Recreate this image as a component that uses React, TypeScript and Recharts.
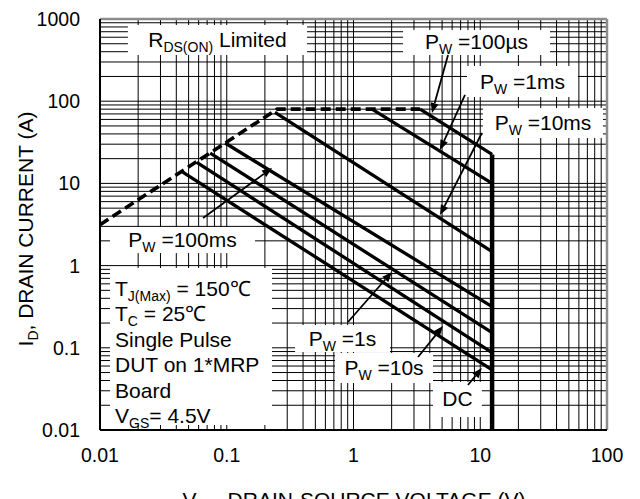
import React from 'react';
import { LineChart, Line, XAxis, YAxis, CartesianGrid, ReferenceLine, ReferenceArea } from 'recharts';

type Pt = { x: number; y: number };
type Part = { t: string; sub?: boolean };

// SOA curves (V_DS in V, I_D in A)
const rdsOnLimit: Pt[] = [{ x: 0.01, y: 3.15 }, { x: 0.25, y: 80 }, { x: 3.35, y: 80 }];
const pw100us: Pt[] = [{ x: 3.35, y: 80 }, { x: 12.4, y: 22.5 }];
const pw1ms: Pt[] = [{ x: 1.4, y: 80 }, { x: 12.4, y: 10 }];
const pw10ms: Pt[] = [{ x: 0.24, y: 73 }, { x: 12.4, y: 1.48 }];
const pw100ms: Pt[] = [{ x: 0.097, y: 31 }, { x: 12.4, y: 0.317 }];
const pw1s: Pt[] = [{ x: 0.074, y: 23.4 }, { x: 12.4, y: 0.153 }];
const pw10s: Pt[] = [{ x: 0.058, y: 18 }, { x: 12.4, y: 0.0875 }];
const pwDC: Pt[] = [{ x: 0.044, y: 14 }, { x: 12.4, y: 0.054 }];
const vdsMax: Pt[] = [{ x: 12.4, y: 22.5 }, { x: 12.4, y: 0.01 }];

const pulseLines = [pw100us, pw1ms, pw10ms, pw100ms, pw1s, pw10s, pwDC];

// axes
const xDecades = [0.01, 0.1, 1, 10, 100];
const xTickLabels = ['0.01', '0.1', '1', '10', '100'];
const yDecades = [0.01, 0.1, 1, 10, 100, 1000];
const yTickLabels = ['0.01', '0.1', '1', '10', '100', '1000'];
const gridSteps = [1, 2, 3, 4, 5, 6, 7, 8, 9];

const logGrid = (decades: number[]) =>
  decades.slice(0, -1).flatMap((d) => gridSteps.map((s) => d * s)).concat(decades[decades.length - 1]);
const xGrid = logGrid(xDecades);
const yGrid = logGrid(yDecades);

const decadeLabel = (decades: number[], labels: string[]) => (v: number) => {
  const i = decades.findIndex((d) => Math.abs(d - v) / d < 1e-6);
  return i >= 0 ? labels[i] : '';
};

// annotations (data coordinates)
const pw = (s: string): Part[] => [{ t: 'P' }, { t: 'W', sub: true }, { t: ' =' + s }];

const labelBoxes = [
  { x1: 0.0166, x2: 0.43, y1: 365, y2: 845, parts: [{ t: 'R' }, { t: 'DS(ON)', sub: true }, { t: ' Limited' }] },
  { x1: 2.46, x2: 35.5, y1: 365, y2: 735, parts: pw('100µs') },
  { x1: 7.86, x2: 59, y1: 112.5, y2: 268, parts: pw('1ms') },
  { x1: 10.5, x2: 93, y1: 35.7, y2: 82.6, parts: pw('10ms') },
  { x1: 0.012, x2: 0.167, y1: 1.42, y2: 2.95, parts: pw('100ms') },
  { x1: 0.346, x2: 1.94, y1: 0.0889, y2: 0.189, parts: pw('1s') },
  { x1: 0.714, x2: 4.24, y1: 0.0373, y2: 0.0864, parts: pw('10s') },
  { x1: 4.24, x2: 10.3, y1: 0.0144, y2: 0.0384, parts: [{ t: 'DC' }] },
];

const conditionBox = { x1: 0.012, x2: 0.2275, y1: 0.0115, y2: 0.935 };
const conditionLines: Part[][] = [
  [{ t: 'T' }, { t: 'J(Max)', sub: true }, { t: ' = 150℃' }],
  [{ t: 'T' }, { t: 'C', sub: true }, { t: ' = 25℃' }],
  [{ t: 'Single Pulse' }],
  [{ t: 'DUT on 1*MRP' }],
  [{ t: 'Board' }],
  [{ t: 'V' }, { t: 'GS', sub: true }, { t: '= 4.5V' }],
];

const arrows = [
  { from: { x: 5.57, y: 365 }, to: { x: 4.16, y: 71.9 } },
  { from: { x: 7.58, y: 119 }, to: { x: 4.81, y: 25.5 } },
  { from: { x: 10.3, y: 41 }, to: { x: 4.81, y: 4.13 } },
  { from: { x: 0.065, y: 3.79 }, to: { x: 0.2275, y: 15.4 } },
  { from: { x: 0.905, y: 0.206 }, to: { x: 2.01, y: 0.836 } },
  { from: { x: 3.23, y: 0.0773 }, to: { x: 5.08, y: 0.184 } },
  { from: { x: 8.0, y: 0.0353 }, to: { x: 10.3, y: 0.0568 } },
];

const FONT = 21;
const SUB = 14;

const renderParts = (parts: Part[]) => {
  let down = false;
  return parts.map((p, i) => {
    let dy: number | undefined;
    if (p.sub && !down) { dy = 5; down = true; }
    else if (!p.sub && down) { dy = -5; down = false; }
    return (
      <tspan key={i} dy={dy} fontSize={p.sub ? SUB : FONT}>{p.t}</tspan>
    );
  });
};

const boxShape = (parts: Part[]) => (props: any) => {
  const { x, y, width, height } = props;
  return (
    <g>
      <rect x={x} y={y} width={width} height={height} fill="#fff" />
      <text x={x + width / 2} y={y + height / 2 + 7} textAnchor="middle" fontSize={FONT} fill="#000">
        {renderParts(parts)}
      </text>
    </g>
  );
};

const conditionShape = (props: any) => {
  const { x, y, width, height } = props;
  return (
    <g>
      <rect x={x} y={y} width={width} height={height} fill="#fff" />
      {conditionLines.map((line, i) => (
        <text key={i} x={x + 5} y={y + 28 + i * 25.5} fontSize={FONT} fill="#000">
          {renderParts(line)}
        </text>
      ))}
    </g>
  );
};

const arrowShape = (props: any) => {
  const { x1, y1, x2, y2 } = props;
  const a = Math.atan2(y2 - y1, x2 - x1);
  const len = 10;
  const hw = 4;
  const bx = x2 - len * Math.cos(a);
  const by = y2 - len * Math.sin(a);
  const pts = `${x2},${y2} ${bx + hw * Math.sin(a)},${by - hw * Math.cos(a)} ${bx - hw * Math.sin(a)},${by + hw * Math.cos(a)}`;
  return (
    <g>
      <line x1={x1} y1={y1} x2={bx} y2={by} stroke="#000" strokeWidth={1.8} />
      <polygon points={pts} fill="#000" />
    </g>
  );
};

const YTitle = () => {
  const cx = 33;
  const cy = 229;
  return (
    <text x={cx} y={cy} transform={`rotate(-90 ${cx} ${cy})`} textAnchor="middle" fontSize={FONT} fill="#000">
      {renderParts([{ t: 'I' }, { t: 'D', sub: true }, { t: ', DRAIN CURRENT (A)' }])}
    </text>
  );
};

const XTitle = () => (
  <text x={354} y={507} textAnchor="middle" fontSize={FONT} fill="#000">
    {renderParts([{ t: 'V' }, { t: 'DS', sub: true }, { t: ', DRAIN-SOURCE VOLTAGE (V)' }])}
  </text>
);

const App: React.FC = () => {
  return (
    <div
      style={{
        position: 'absolute',
        left: 0,
        top: 0,
        width: 640,
        height: 499,
        overflow: 'hidden',
        background: '#fff',
        fontFamily: '"Liberation Sans", Arial, sans-serif',
      }}
    >
      <LineChart width={640} height={520} margin={{ top: 19, right: 33, left: 0, bottom: 0 }}>
        <CartesianGrid stroke="#000" strokeWidth={1} />
        <XAxis
          dataKey="x"
          type="number"
          scale="log"
          domain={[0.01, 100]}
          allowDataOverflow
          ticks={xGrid}
          interval={0}
          tickFormatter={decadeLabel(xDecades, xTickLabels)}
          tickLine={false}
          tickSize={0}
          tickMargin={18}
          height={90}
          axisLine={{ stroke: '#000', strokeWidth: 2 }}
          tick={{ fontSize: 19.5, fill: '#000' }}
          label={<XTitle />}
        />
        <YAxis
          dataKey="y"
          type="number"
          scale="log"
          domain={[0.01, 1000]}
          allowDataOverflow
          ticks={yGrid}
          interval={0}
          tickFormatter={decadeLabel(yDecades, yTickLabels)}
          tickLine={false}
          tickSize={0}
          tickMargin={20}
          width={100}
          axisLine={{ stroke: '#000', strokeWidth: 2 }}
          tick={{ fontSize: 19.5, fill: '#000' }}
          label={<YTitle />}
        />
        <ReferenceLine y={1000} stroke="#8c8c8c" strokeWidth={2.5} />
        <ReferenceLine x={100} stroke="#8c8c8c" strokeWidth={2.5} />

        {labelBoxes.map((b, i) => (
          <ReferenceArea key={`box-${i}`} x1={b.x1} x2={b.x2} y1={b.y1} y2={b.y2} shape={boxShape(b.parts)} />
        ))}
        <ReferenceArea
          x1={conditionBox.x1}
          x2={conditionBox.x2}
          y1={conditionBox.y1}
          y2={conditionBox.y2}
          shape={conditionShape}
        />

        <Line
          data={rdsOnLimit}
          dataKey="y"
          stroke="#000"
          strokeWidth={3.6}
          strokeDasharray="10 5"
          dot={false}
          activeDot={false}
          isAnimationActive={false}
        />
        {pulseLines.map((d, i) => (
          <Line
            key={`pw-${i}`}
            data={d}
            dataKey="y"
            stroke="#000"
            strokeWidth={3.3}
            dot={false}
            activeDot={false}
            isAnimationActive={false}
          />
        ))}
        <Line
          data={vdsMax}
          dataKey="y"
          stroke="#000"
          strokeWidth={4.5}
          dot={false}
          activeDot={false}
          isAnimationActive={false}
        />

        {arrows.map((a, i) => (
          <ReferenceLine key={`arrow-${i}`} segment={[a.from, a.to]} shape={arrowShape} />
        ))}
      </LineChart>
    </div>
  );
};

export default App;
